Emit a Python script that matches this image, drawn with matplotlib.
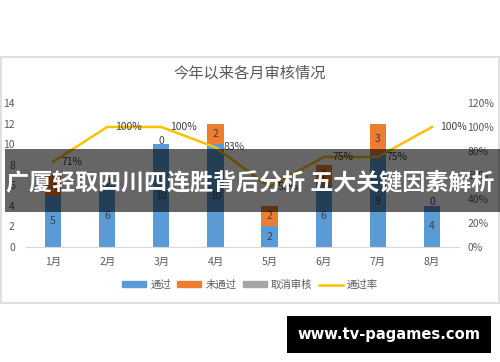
import numpy as np
import matplotlib
matplotlib.use('Agg')
import matplotlib.pyplot as plt
from matplotlib.patches import Rectangle, Patch
from matplotlib.lines import Line2D

plt.rcParams['font.family'] = ['Noto Sans CJK SC', 'DejaVu Sans']

# data
months = ['1月', '2月', '3月', '4月', '5月', '6月', '7月', '8月']
passed = [5, 6, 10, 10, 2, 6, 9, 4]
failed = [2, 0, 0, 2, 2, 2, 3, 0]
cancelled = [0, 0, 0, 0, 0, 0, 0, 0]
pass_rate = [0.71, 1.00, 1.00, 0.83, 0.50, 0.75, 0.75, 1.00]

c_pass = '#5B9BD5'
c_fail = '#ED7D31'
c_cancel = '#A5A5A5'
c_rate = '#FFC000'
txt = '#404040'
tick_c = '#595959'

fig = plt.figure(figsize=(5, 3.62), dpi=100)

# chart frame
fig.patches.append(Rectangle((1/500, 1-303/362), 498/500, 246/362, transform=fig.transFigure,
                             fill=False, edgecolor='#D9D9D9', linewidth=1.2))

ax = fig.add_axes([26/500, 1-247/362, 433/500, 144/362])
x = np.arange(len(months))
w = 0.3
ax.bar(x, passed, w, color=c_pass, label='通过')
ax.bar(x, failed, w, bottom=passed, color=c_fail, label='未通过')
bot2 = np.array(passed) + np.array(failed)
ax.bar(x, cancelled, w, bottom=bot2, color=c_cancel, label='取消审核')

for i in range(len(months)):
    ax.text(x[i], passed[i] / 2, str(passed[i]), ha='center', va='center', fontsize=7.5, color=txt)
    if failed[i] > 0:
        ax.text(x[i], passed[i] + failed[i] / 2, str(failed[i]), ha='center', va='center',
                fontsize=7.5, color=txt)
    else:
        ax.text(x[i], passed[i] + 0.35, '0', ha='center', va='center', fontsize=7.5, color=txt)

ax.set_xlim(-0.5, len(months) - 0.5)
ax.set_ylim(0, 14)
ax.set_yticks(range(0, 15, 2))
ax.set_xticks(x)
ax.set_xticklabels(months)
for s in ['top', 'right', 'left']:
    ax.spines[s].set_visible(False)
ax.spines['bottom'].set_color('#D9D9D9')
ax.tick_params(axis='both', length=0, labelsize=7.5, colors=tick_c)
ax.tick_params(axis='x', pad=7)
ax.tick_params(axis='y', pad=8)

ax2 = ax.twinx()
ax2.plot(x, pass_rate, color=c_rate, linewidth=1.8)
for i in range(len(months)):
    ax2.annotate(f'{pass_rate[i]:.0%}', (x[i], pass_rate[i]), xytext=(6, 0),
                 textcoords='offset points', ha='left', va='center', fontsize=7.5, color=txt)
ax2.set_ylim(0, 1.2)
ax2.set_yticks(np.arange(0, 1.21, 0.2))
ax2.set_yticklabels([f'{int(round(v*100))}%' for v in np.arange(0, 1.21, 0.2)])
for s in ['top', 'right', 'left', 'bottom']:
    ax2.spines[s].set_visible(False)
ax2.tick_params(axis='y', length=0, labelsize=7.5, colors=tick_c, pad=6)

fig.text(0.5, 1-73/362, '今年以来各月审核情况', ha='center', va='center', fontsize=11, color='#595959')

handles = [Patch(color=c_pass), Patch(color=c_fail), Patch(color=c_cancel),
           Line2D([0], [0], color=c_rate, linewidth=1.8)]
fig.legend(handles, ['通过', '未通过', '取消审核', '通过率'], loc='center',
           bbox_to_anchor=(0.5, 1-285/362), ncol=4, frameon=False, fontsize=7.5,
           labelcolor=tick_c, handlelength=2.3, handleheight=0.5, columnspacing=0.6,
           handletextpad=0.4)

# overlay banner and site tag
fig.patches.append(Rectangle((5/500, 1-212/362), 495/500, 63/362, transform=fig.transFigure,
                             facecolor='black', alpha=0.6, edgecolor='none', zorder=5))
fig.text(0.5, 1-183/362, '广厦轻取四川四连胜背后分析 五大关键因素解析', ha='center', va='center',
         fontsize=16.6, color='white', fontweight='bold', zorder=6)
fig.patches.append(Rectangle((287/500, 1-353/362), 204/500, 37/362, transform=fig.transFigure,
                             facecolor='black', edgecolor='none', zorder=5))
fig.text(389/500, 1-335/362, 'www.tv-pagames.com', ha='center', va='center',
         fontsize=10.6, color='white', fontweight='bold', family='DejaVu Sans', zorder=6)

fig.savefig('out.png', dpi=100)
